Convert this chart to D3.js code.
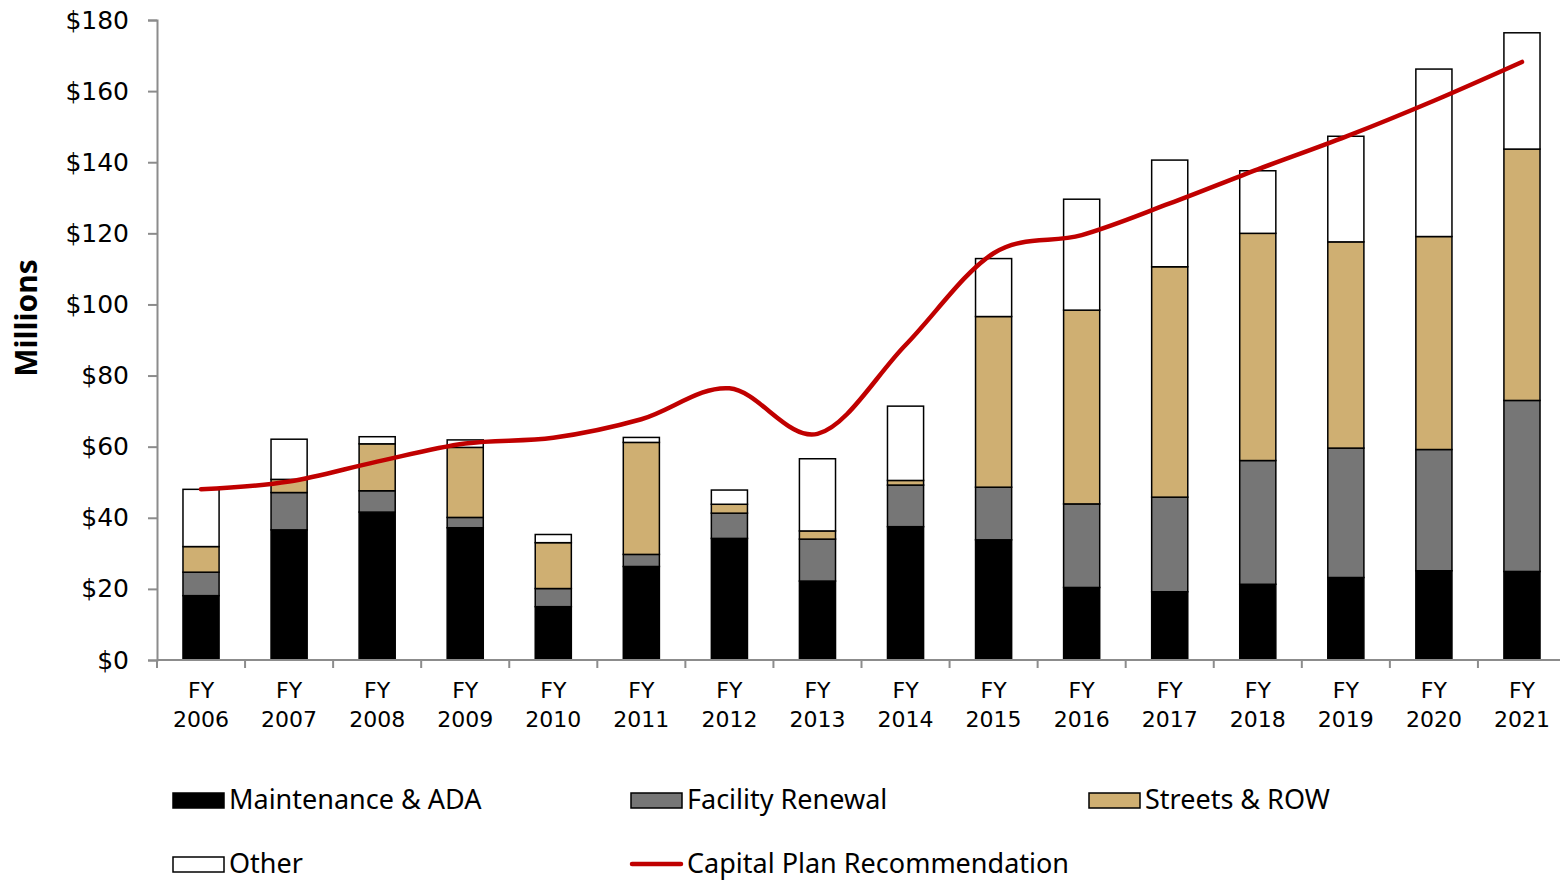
<!DOCTYPE html>
<html>
<head>
<meta charset="utf-8">
<script src="https://cdn.jsdelivr.net/npm/d3@7"></script>
<style>
  body { margin: 0; background: #fff; }
  svg { display: block; font-family: "Noto Sans", sans-serif; }
</style>
</head>
<body>
<svg id="chart" width="1560" height="880"></svg>
<script>
// fiscal years on the x axis
const years = ["2006","2007","2008","2009","2010","2011","2012","2013","2014","2015","2016","2017","2018","2019","2020","2021"];
// series, $ millions
const maintenance = [18.1, 36.6, 41.6, 37.2, 15.0, 26.3, 34.2, 22.2, 37.5, 33.8, 20.4, 19.2, 21.3, 23.2, 25.1, 24.9];
const facility    = [6.6, 10.5, 6.0, 2.9, 5.1, 3.4, 7.1, 11.8, 11.7, 14.8, 23.5, 26.6, 34.8, 36.4, 34.1, 48.1];
const streets     = [7.2, 3.7, 13.2, 19.7, 12.9, 31.5, 2.5, 2.3, 1.3, 48.0, 54.5, 64.8, 63.9, 58.0, 59.9, 70.7];
const other       = [16.1, 11.3, 2.0, 2.1, 2.3, 1.4, 4.0, 20.3, 20.9, 16.3, 31.2, 30.0, 17.6, 29.7, 47.1, 32.7];
const plan        = [48.0, 50.2, 55.8, 60.9, 62.5, 67.7, 76.4, 63.6, 88.6, 114.4, 119.5, 128.4, 138.0, 147.2, 157.3, 168.2];
const yTicks = [0, 20, 40, 60, 80, 100, 120, 140, 160, 180];

const keys = ["maint", "facility", "streets", "other"];
const names = {maint: "Maintenance & ADA", facility: "Facility Renewal", streets: "Streets & ROW", other: "Other"};
const colors = {maint: "#000000", facility: "#767676", streets: "#CFAF72", other: "#FFFFFF"};
const lineColor = "#C00000";
const numFont = "DejaVu Sans";

let rows = years.map((y, i) => ({year: y, maint: maintenance[i], facility: facility[i], streets: streets[i], other: other[i]}));

let svg = d3.select("#chart");

let x = d3.scaleBand().domain(years).range([157, 1566]).paddingInner(0.59).paddingOuter(0.295);
let y = d3.scaleLinear().domain([0, 180]).range([660, 20]);

// y axis
let yAxis = svg.append("g")
	.attr("transform", "translate(157,0)")
	.call(d3.axisLeft(y).tickValues(yTicks).tickSize(9).tickPadding(19).tickFormat(d => "$" + d));
yAxis.select(".domain").attr("stroke", "#8c8c8c").attr("stroke-width", 2);
yAxis.selectAll(".tick line").attr("stroke", "#8c8c8c").attr("stroke-width", 2);
yAxis.selectAll("text").attr("font-size", 25).attr("fill", "#000").attr("font-family", numFont);

svg.append("text")
	.attr("transform", "translate(37,318) rotate(-90)")
	.attr("text-anchor", "middle")
	.attr("font-size", 30)
	.attr("font-weight", "bold")
	.text("Millions");

// stacked bars
let stacked = d3.stack().keys(keys)(rows);
svg.append("g").selectAll("g")
	.data(stacked)
	.enter().append("g")
	.attr("fill", d => colors[d.key])
	.selectAll("rect")
	.data(d => d)
	.enter().append("rect")
	.attr("x", d => x(d.data.year))
	.attr("y", d => y(d[1]))
	.attr("width", x.bandwidth())
	.attr("height", d => y(d[0]) - y(d[1]))
	.attr("stroke", "#000")
	.attr("stroke-width", 1.5);

// x axis
let xAxisG = svg.append("g");
xAxisG.append("line")
	.attr("x1", 157).attr("x2", 1566)
	.attr("y1", 660).attr("y2", 660)
	.attr("stroke", "#8c8c8c").attr("stroke-width", 2);
let step = x.step();
xAxisG.selectAll(".btick")
	.data(d3.range(years.length + 1))
	.enter().append("line")
	.attr("x1", i => 157 + i * step).attr("x2", i => 157 + i * step)
	.attr("y1", 660).attr("y2", 668)
	.attr("stroke", "#8c8c8c").attr("stroke-width", 2);
let xl = xAxisG.selectAll(".xlab")
	.data(years)
	.enter().append("text")
	.attr("text-anchor", "middle")
	.attr("font-size", 22)
	.attr("font-family", numFont)
	.attr("x", d => x(d) + x.bandwidth() / 2);
xl.append("tspan").attr("x", d => x(d) + x.bandwidth() / 2).attr("y", 698).text("FY");
xl.append("tspan").attr("x", d => x(d) + x.bandwidth() / 2).attr("y", 727).text(d => d);

// capital plan line
let line = d3.line()
	.x((d, i) => x(years[i]) + x.bandwidth() / 2)
	.y(d => y(d))
	.curve(d3.curveCatmullRom.alpha(0));
svg.append("path")
	.datum(plan)
	.attr("d", line)
	.attr("fill", "none")
	.attr("stroke", lineColor)
	.attr("stroke-width", 4.5)
	.attr("stroke-linecap", "round");

// legend
let legendItems = [
	{key: "maint", x: 172, y: 800},
	{key: "facility", x: 630, y: 800},
	{key: "streets", x: 1088, y: 800},
	{key: "other", x: 172, y: 864},
	{key: "plan", x: 630, y: 864}
];
let lg = svg.append("g").selectAll("g")
	.data(legendItems)
	.enter().append("g")
	.attr("transform", d => "translate(" + d.x + "," + d.y + ")");
lg.filter(d => d.key !== "plan").append("rect")
	.attr("x", 1).attr("y", -7).attr("width", 51).attr("height", 15)
	.attr("fill", d => colors[d.key])
	.attr("stroke", "#000").attr("stroke-width", 1.5);
lg.filter(d => d.key === "plan").append("line")
	.attr("x1", 2).attr("x2", 51).attr("y1", 0).attr("y2", 0)
	.attr("stroke", lineColor).attr("stroke-width", 4.5).attr("stroke-linecap", "round");
lg.append("text")
	.attr("x", 57).attr("y", 9)
	.attr("font-size", 27)
	.text(d => d.key === "plan" ? "Capital Plan Recommendation" : names[d.key]);
</script>
</body>
</html>
